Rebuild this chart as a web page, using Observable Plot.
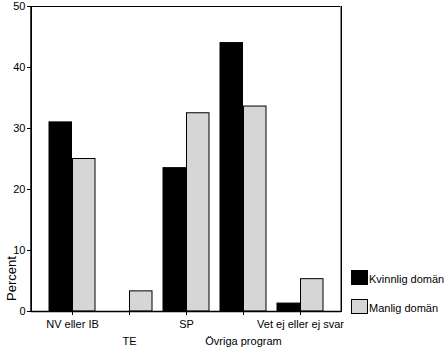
<!DOCTYPE html>
<html>
<head>
<meta charset="utf-8">
<script src="https://cdn.jsdelivr.net/npm/d3@7"></script>
<script src="https://cdn.jsdelivr.net/npm/@observablehq/plot@0.6"></script>
<style>
  html, body { margin: 0; padding: 0; background: #fff; }
  #wrap { position: relative; width: 446px; height: 353px; font-family: "Liberation Sans", Arial, sans-serif; }
  .leg { position: absolute; font-size: 11px; color: #000; display: flex; align-items: flex-end; }
  .sw { width: 17px; height: 15px; border: 1px solid #000; box-sizing: border-box; margin-right: 1px; }
</style>
</head>
<body>
<div id="wrap"></div>
<script>
const categories = ["NV eller IB", "TE", "SP", "Övriga program", "Vet ej eller ej svar"];
const kvinnlig = [31, 0, 23.5, 44, 1.3];
const manlig = [25, 3.3, 32.5, 33.6, 5.3];
const yTicks = [0, 10, 20, 30, 40, 50];
const seriesNames = ["Kvinnlig domän", "Manlig domän"];
const seriesColors = ["#000000", "#d6d6d6"];

const rowsK = categories.map((c, i) => ({cat: c, v: kvinnlig[i]})).filter(d => d.v > 0);
const rowsM = categories.map((c, i) => ({cat: c, v: manlig[i]})).filter(d => d.v > 0);
const upper = categories.filter((c, i) => i % 2 === 0);
const lower = categories.filter((c, i) => i % 2 === 1);

const chart = Plot.plot({
  width: 446,
  height: 353,
  marginLeft: 31,
  marginRight: 105,
  marginTop: 6,
  marginBottom: 42,
  style: {fontFamily: "Liberation Sans, Arial, sans-serif", fontSize: "11px", color: "#000", background: "#fff"},
  x: {domain: categories, paddingInner: 0.19, paddingOuter: 0.2675},
  y: {domain: [0, 50]},
  marks: [
    Plot.barY(rowsK, {x: "cat", y: "v", fill: seriesColors[0], stroke: "#000", strokeWidth: 1, insetRight: 23.5}),
    Plot.barY(rowsM, {x: "cat", y: "v", fill: seriesColors[1], stroke: "#000", strokeWidth: 1, insetLeft: 23.5}),
    Plot.frame({stroke: "#000", strokeWidth: 1}),
    Plot.ruleY([0], {stroke: "#000", strokeWidth: 1.5}),
    Plot.axisY({ticks: yTicks, tickSize: 4, tickPadding: 2, label: null, fontSize: 11, tickFormat: d3.format("d")}),
    Plot.axisX({ticks: categories, tickSize: 4, tickPadding: 5, label: null, fontSize: 11,
      tickFormat: d => upper.includes(d) ? d : ""}),
    Plot.axisX({ticks: lower, tickSize: 0, tickPadding: 26, label: null, fontSize: 11}),
    Plot.text(["Percent"], {frameAnchor: "bottom-left", text: d => d, rotate: -90, dx: -19.5, dy: -33,
      textAnchor: "middle", lineAnchor: "middle", fontSize: 13})
  ]
});

const wrap = document.getElementById("wrap");
wrap.appendChild(chart);

const svg = d3.select(chart);
svg.append("line").attr("x1", 31).attr("x2", 31).attr("y1", 6).attr("y2", 311).attr("stroke", "#000").attr("stroke-width", 1.5);
svg.append("line").attr("x1", 340.5).attr("x2", 340.5).attr("y1", 6).attr("y2", 311).attr("stroke", "#888").attr("stroke-width", 1);

const legTops = [270, 299];
seriesNames.forEach((name, i) => {
  const el = document.createElement("div");
  el.className = "leg";
  el.style.left = "351px";
  el.style.top = legTops[i] + "px";
  el.innerHTML = `<div class="sw" style="background:${seriesColors[i]}"></div><span style="line-height:11px">${name}</span>`;
  wrap.appendChild(el);
});
</script>
</body>
</html>
